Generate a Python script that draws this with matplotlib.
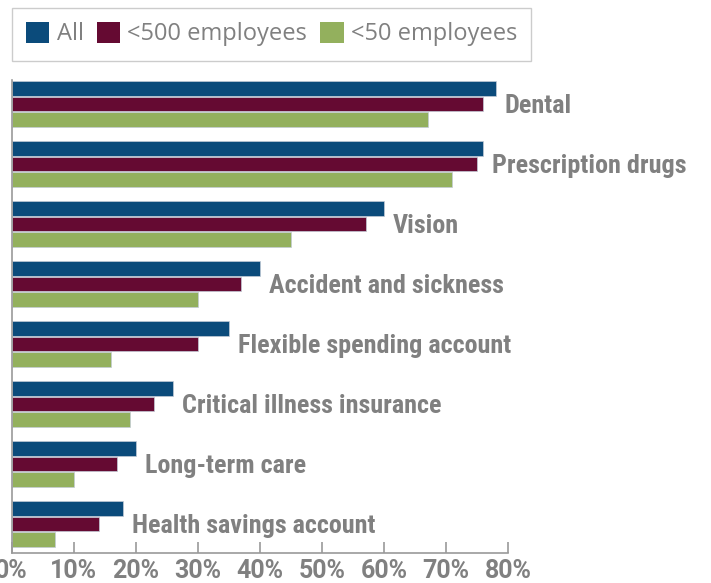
import matplotlib
matplotlib.use("Agg")
import matplotlib.pyplot as plt
import numpy as np

categories = ["Dental", "Prescription drugs", "Vision", "Accident and sickness",
              "Flexible spending account", "Critical illness insurance",
              "Long-term care", "Health savings account"]
all_pct = [78, 76, 60, 40, 35, 26, 20, 18]
lt500_pct = [76, 75, 57, 37, 30, 23, 17, 14]
lt50_pct = [67, 71, 45, 30, 16, 19, 10, 7]
series_names = ["All", "<500 employees", "<50 employees"]
colors = ["#0b4b7b", "#650a32", "#93b05d"]
ticks = [0, 10, 20, 30, 40, 50, 60, 70, 80]

text_gray = "#808080"
axis_gray = "#9a9a9a"

fig = plt.figure(figsize=(7.11, 5.83), dpi=100)
ax = fig.add_axes([11.7/711, 1 - 553/583, (508.3 - 11.7)/711, (553 - 80)/583])

y = np.arange(len(categories))
h = 0.245
step = 0.263
for i, (vals, c, name) in enumerate(zip([all_pct, lt500_pct, lt50_pct], colors, series_names)):
    ax.barh(y + (i - 1) * step, vals, height=h, color=c, label=name,
            edgecolor="#c3cbd6", linewidth=0.5)

# category names sit just past the longest bar of each group
for yi, cat, v in zip(y, categories, all_pct):
    ax.annotate(cat, (v, yi), xytext=(6.3, -6.2), textcoords="offset points",
                va="baseline", ha="left", fontsize=18.8, fontweight="bold",
                family="Roboto Condensed", color=text_gray, annotation_clip=False)

ax.set_xlim(0, 80)
ax.set_ylim(7.483, -0.4)
ax.set_xticks(ticks)
ax.set_xticklabels([f"{t}%" for t in ticks], fontsize=18, fontweight="bold",
                   family="Roboto", color=text_gray)
ax.set_yticks([])
ax.tick_params(axis="x", direction="in", length=7.6, width=1.2, color=axis_gray, pad=4)
for s in ["top", "right"]:
    ax.spines[s].set_visible(False)
for s in ["left", "bottom"]:
    ax.spines[s].set_color(axis_gray)
    ax.spines[s].set_linewidth(1.2)

leg = fig.legend(loc="upper left", bbox_to_anchor=(11.7/711, 1 - 8/583), ncol=3,
                 prop={"family": "Open Sans", "size": 17, "weight": "medium"},
                 frameon=True, fancybox=False, handlelength=1.0,
                 handleheight=0.95, handletextpad=0.3, columnspacing=0.55,
                 borderpad=0.6, borderaxespad=0)
leg.get_frame().set_edgecolor("#c0c0c0")
leg.get_frame().set_linewidth(1.0)
for t in leg.get_texts():
    t.set_color(text_gray)
for hnd in leg.legend_handles:
    hnd.set_edgecolor("none")

fig.savefig("out.png", dpi=100)
